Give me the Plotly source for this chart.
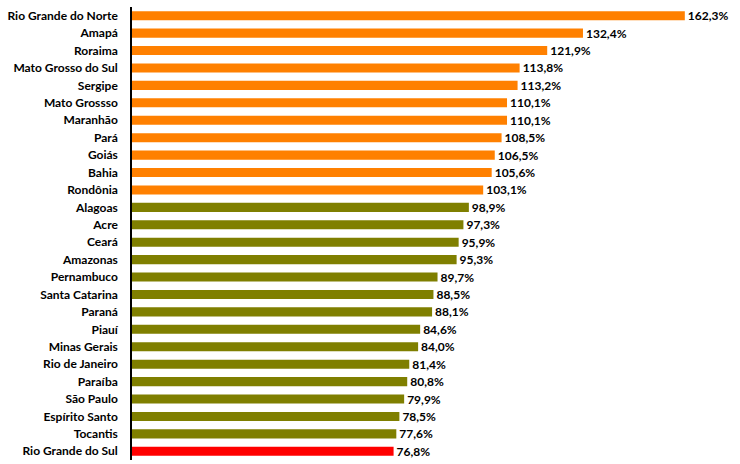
import plotly.graph_objects as go

states = ["Rio Grande do Norte", "Amapá", "Roraima", "Mato Grosso do Sul", "Sergipe",
          "Mato Grossso", "Maranhão", "Pará", "Goiás", "Bahia", "Rondônia", "Alagoas",
          "Acre", "Ceará", "Amazonas", "Pernambuco", "Santa Catarina", "Paraná", "Piauí",
          "Minas Gerais", "Rio de Janeiro", "Paraíba", "São Paulo", "Espírito Santo",
          "Tocantis", "Rio Grande do Sul"]
values = [162.3, 132.4, 121.9, 113.8, 113.2, 110.1, 110.1, 108.5, 106.5, 105.6, 103.1,
          98.9, 97.3, 95.9, 95.3, 89.7, 88.5, 88.1, 84.6, 84.0, 81.4, 80.8, 79.9, 78.5,
          77.6, 76.8]
groups = ["high"] * 11 + ["mid"] * 14 + ["low"]

palette = {"high": "#FF8000", "mid": "#7F7F00", "low": "#FF0000"}
colors = [palette[g] for g in groups]
labels = [f"{v:.1f}%".replace(".", ",") for v in values]

fig = go.Figure(go.Bar(
    x=values, y=states, orientation="h",
    marker=dict(color=colors, line=dict(width=0)),
    text=labels, textposition="outside", cliponaxis=False, constraintext="none",
    textfont=dict(family="Lato, Open Sans, sans-serif", size=12, color="black",
                  weight="bold"),
    width=0.52,
))
fig.update_layout(
    width=740, height=464,
    margin=dict(l=132, r=0, t=7, b=4),
    plot_bgcolor="white", paper_bgcolor="white",
    showlegend=False,
    font=dict(family="Lato, Open Sans, sans-serif", size=12, color="black"),
)
fig.update_xaxes(range=[0, 178.5], visible=False, showgrid=False, zeroline=False)
fig.update_yaxes(autorange="reversed", showgrid=False, zeroline=False,
                 showline=True, linecolor="black", linewidth=1.5,
                 ticks="", ticklabelstandoff=10,
                 tickfont=dict(family="Lato, Open Sans, sans-serif", size=12,
                               color="black", weight="bold"))
fig.write_html("out.html")
